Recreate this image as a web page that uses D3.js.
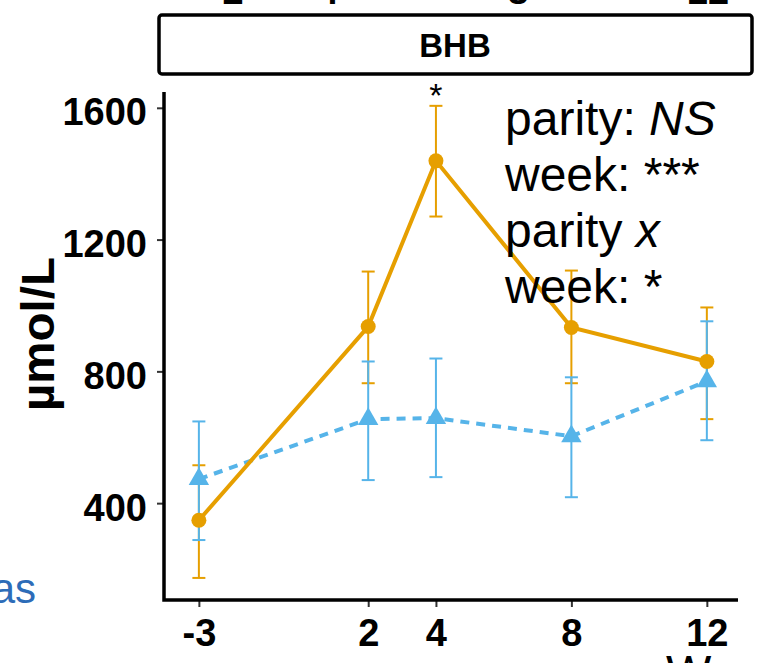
<!DOCTYPE html>
<html>
<head>
<meta charset="utf-8">
<script src="https://cdn.jsdelivr.net/npm/d3@7"></script>
<style>
  body { margin: 0; background: #fff; }
  svg { display: block; font-family: "Liberation Sans", Arial, sans-serif; }
</style>
</head>
<body>
<script>
// Data
const weeks = [-3, 2, 4, 8, 12];
const orangeMean = [348, 936, 1439, 933, 830];
const orangeLow = [173, 764, 1270, 764, 655];
const orangeHigh = [515, 1103, 1606, 1106, 994];
const blueMean = [473, 655, 658, 603, 770];
const blueLow = [288, 470, 479, 418, 591];
const blueHigh = [648, 830, 839, 782, 952];
const yTicks = [400, 800, 1200, 1600];
const statLines = [
  [["parity: ", false], ["NS", true]],
  [["week: ***", false]],
  [["parity ", false], ["x", true]],
  [["week: *", false]],
];

const width = 757, height = 663;
const orange = "#E69F00", blue = "#56B4E9";

const svg = d3.select("body").append("svg")
  .attr("width", width)
  .attr("height", height);

// plot area
const x = d3.scaleLinear().domain([-4.03, 12.92]).range([164, 738]);
const y = d3.scaleLinear().domain([106, 1648]).range([600, 92]);

// cut-off tick labels of the panel above
const xAbove = d3.scaleLinear().domain([2, 12]).range([233, 708]);
svg.append("g").selectAll("text")
  .data([2, 4, 8, 12])
  .enter().append("text")
  .attr("x", (d) => xAbove(d))
  .attr("y", 4)
  .attr("text-anchor", "middle")
  .style("font-size", "38px")
  .style("font-weight", "bold")
  .text((d) => d);

// strip
svg.append("rect")
  .attr("x", 159).attr("y", 15)
  .attr("width", 593).attr("height", 59)
  .attr("rx", 3)
  .attr("fill", "#fff")
  .attr("stroke", "#000")
  .attr("stroke-width", 3.5);
svg.append("text")
  .attr("x", 455).attr("y", 57)
  .attr("text-anchor", "middle")
  .style("font-size", "33px")
  .style("font-weight", "bold")
  .text("BHB");

// stray text from the neighbouring panels
svg.append("text")
  .attr("x", 36).attr("y", 603)
  .attr("text-anchor", "end")
  .attr("fill", "#2d6cb8")
  .style("font-size", "42px")
  .text("as");
svg.append("text")
  .attr("x", 666).attr("y", 689)
  .style("font-size", "48px")
  .text("W");

// axes
const xAxis = d3.axisBottom(x).tickValues(weeks).tickSize(7).tickPadding(12)
  .tickFormat((d) => String(d));
const gx = svg.append("g").attr("transform", "translate(0,600)").call(xAxis);
gx.select(".domain").remove();
gx.selectAll(".tick line").attr("stroke", "#333").attr("stroke-width", 2);
gx.selectAll(".tick text")
  .attr("fill", "#000")
  .style("font-size", "38px")
  .style("font-weight", "bold")
  .style("font-family", "Liberation Sans, Arial, sans-serif");

const yAxis = d3.axisLeft(y).tickValues(yTicks).tickSize(7).tickPadding(10)
  .tickFormat((d) => String(d));
const gy = svg.append("g").attr("transform", "translate(164,0)").call(yAxis);
gy.select(".domain").remove();
gy.selectAll(".tick line").attr("stroke", "#333").attr("stroke-width", 2);
gy.selectAll(".tick text")
  .attr("fill", "#000")
  .attr("dy", "0.45em")
  .style("font-size", "38px")
  .style("font-weight", "bold")
  .style("font-family", "Liberation Sans, Arial, sans-serif");

// axis lines
svg.append("path")
  .attr("d", `M${x.range()[0]},${y.range()[1]}V${y.range()[0]}H${x.range()[1]}`)
  .attr("fill", "none")
  .attr("stroke", "#000")
  .attr("stroke-width", 3.5);

// y label
svg.append("text")
  .attr("transform", "translate(54,334) rotate(-90)")
  .attr("text-anchor", "middle")
  .attr("textLength", 154)
  .attr("lengthAdjust", "spacingAndGlyphs")
  .style("font-size", "47px")
  .style("font-weight", "bold")
  .text("µmol/L");

// error bars
function errorBars(low, high, colour) {
  const g = svg.append("g").attr("stroke", colour).attr("stroke-width", 2);
  weeks.forEach((w, i) => {
    const cx = x(w);
    g.append("line").attr("x1", cx).attr("x2", cx).attr("y1", y(low[i])).attr("y2", y(high[i]));
    g.append("line").attr("x1", cx - 6.5).attr("x2", cx + 6.5).attr("y1", y(low[i])).attr("y2", y(low[i]));
    g.append("line").attr("x1", cx - 6.5).attr("x2", cx + 6.5).attr("y1", y(high[i])).attr("y2", y(high[i]));
  });
}
errorBars(orangeLow, orangeHigh, orange);
errorBars(blueLow, blueHigh, blue);

const line = d3.line().x((d) => x(d[0])).y((d) => y(d[1]));

svg.append("path")
  .datum(weeks.map((w, i) => [w, blueMean[i]]))
  .attr("d", line)
  .attr("fill", "none")
  .attr("stroke", blue)
  .attr("stroke-width", 4)
  .attr("stroke-dasharray", "9,7");

svg.append("path")
  .datum(weeks.map((w, i) => [w, orangeMean[i]]))
  .attr("d", line)
  .attr("fill", "none")
  .attr("stroke", orange)
  .attr("stroke-width", 4);

// points
svg.append("g").selectAll("path")
  .data(weeks.map((w, i) => [w, blueMean[i]]))
  .enter().append("path")
  .attr("transform", (d) => `translate(${x(d[0])},${y(d[1])})`)
  .attr("d", d3.symbol(d3.symbolTriangle, 180))
  .attr("fill", blue);

svg.append("g").selectAll("circle")
  .data(weeks.map((w, i) => [w, orangeMean[i]]))
  .enter().append("circle")
  .attr("cx", (d) => x(d[0]))
  .attr("cy", (d) => y(d[1]))
  .attr("r", 7.5)
  .attr("fill", orange);

// significance star at week 4
svg.append("text")
  .attr("x", x(4))
  .attr("y", 107)
  .attr("text-anchor", "middle")
  .style("font-size", "34px")
  .text("*");

// stats annotation
const stat = svg.append("text")
  .style("font-size", "48px")
  .attr("fill", "#000");
statLines.forEach((parts, i) => {
  parts.forEach((p, j) => {
    const t = stat.append("tspan").text(p[0]);
    if (j === 0) t.attr("x", 505).attr("y", 135 + i * 56);
    if (p[1]) t.style("font-style", "italic");
  });
});
</script>
</body>
</html>
